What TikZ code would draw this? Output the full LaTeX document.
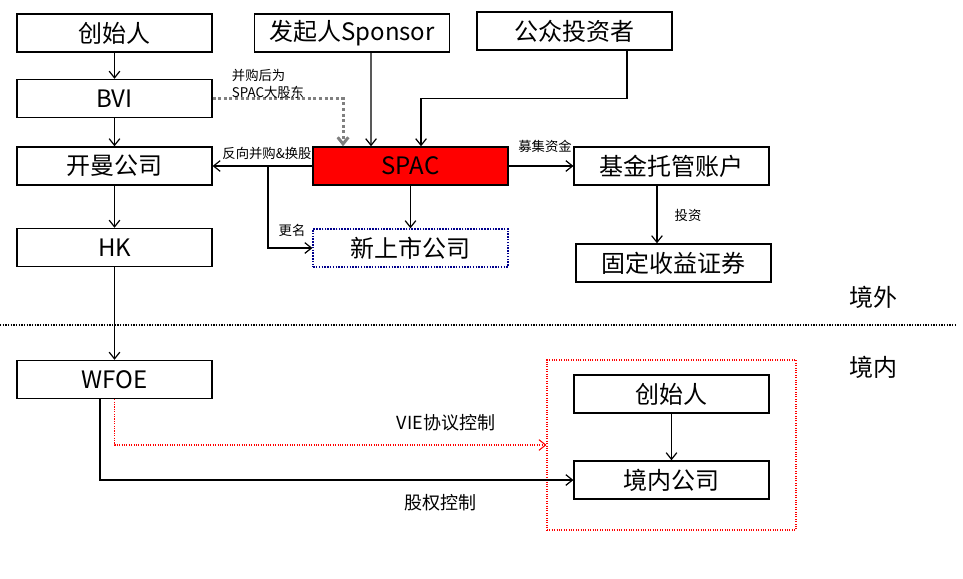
\documentclass[tikz,border=0pt]{standalone}
\usepackage{fontspec}
\setmainfont{Noto Sans CJK SC}
\usepackage{tikz}
\usetikzlibrary{arrows.meta}
\tikzset{>={Straight Barb[length=5pt,width=8pt]}}
\tikzset{box/.style={draw, line width=1.1pt, minimum width=146pt, minimum height=28.5pt, inner sep=0pt, font=\fontsize{18}{20}\selectfont}}
\tikzset{arr/.style={->, line width=.9pt}}
\tikzset{lbl/.style={font=\fontsize{10}{12.75}\selectfont, inner sep=0pt, align=left}}
\tikzset{mid/.style={font=\fontsize{13.5}{15}\selectfont, inner sep=0pt}}

\begin{document}
\begin{tikzpicture}[x=.75pt, y=-.75pt]
    \useasboundingbox(0, 0)rectangle(963, 578);
    % offshore side
    \node[box](fa)at(114.5, 33){创始人};
    \node[box](bvi)at(114.5, 98.5){BVI};
    \node[box](cayman)at(114.5, 166){开曼公司};
    \node[box](hk)at(114.5, 247.5){HK};
    \node[box](sponsor)at(352, 33){发起人Sponsor};
    \node[box](public)at(574.5, 31){公众投资者};
    \node[box, fill=red](spac)at(410.5, 166){SPAC};
    \node[box](trust)at(671.5, 166){基金托管账户};
    \node[box, draw=blue!55!black, densely dotted](newco)at(410.5, 248){新上市公司};
    \node[box](bond)at(673.5, 263){固定收益证券};
    % onshore side
    \node[box](wfoe)at(114.5, 379.5){WFOE};
    \node[draw=red, densely dotted, line width=.8pt, minimum width=186.75pt, minimum height=127.5pt](vie)at(671.5, 445){};
    \node[box](fb)at(671.5, 394){创始人};
    \node[box](onshore)at(671.5, 480){境内公司};

    \draw[arr](fa)--(bvi);
    \draw[arr](bvi)--(cayman);
    \draw[arr](cayman)--(hk);
    \draw[arr](hk)--(wfoe);
    \draw[->, gray, dotted, line width=2.2pt](bvi.east)-|([xshift=-50.6pt]spac.north);
    \node[lbl]at(268, 84){并购后为\\SPAC大股东};
    \draw[arr]([xshift=14.25pt]sponsor.south)--([xshift=-29.6pt]spac.north);
    \draw[arr]([xshift=39.4pt]public.south)--++(0, 48)-|([xshift=7.9pt]spac.north);
    \draw[arr](spac)--(cayman);
    \node[lbl]at(267, 153){反向并购\&换股};
    \coordinate(split)at(268, 166);
    \draw[arr](split)|-(newco.west);
    \node[lbl]at(292, 230){更名};
    \draw[arr](spac)--(newco);
    \draw[arr](spac)--(trust);
    \node[lbl]at(545, 146){募集资金};
    \draw[arr]([xshift=-10.9pt]trust.south)--([xshift=-12.4pt]bond.north);
    \node[lbl]at(688, 215){投资};

    % border line
    \draw[densely dotted, line width=1pt](0, 325)--(955, 325);
    \node[font=\fontsize{18}{20}\selectfont, inner sep=0pt]at(873, 297){境外};
    \node[font=\fontsize{18}{20}\selectfont, inner sep=0pt]at(873, 367){境内};

    \draw[arr](fb)--(onshore);
    \draw[->, red, densely dotted, line width=.8pt](wfoe.south)|-(vie.west);
    \node[mid]at(446, 423){VIE协议控制};
    \draw[arr]([xshift=-10.9pt]wfoe.south)|-(onshore.west);
    \node[mid]at(440, 503){股权控制};
\end{tikzpicture}
\end{document}
